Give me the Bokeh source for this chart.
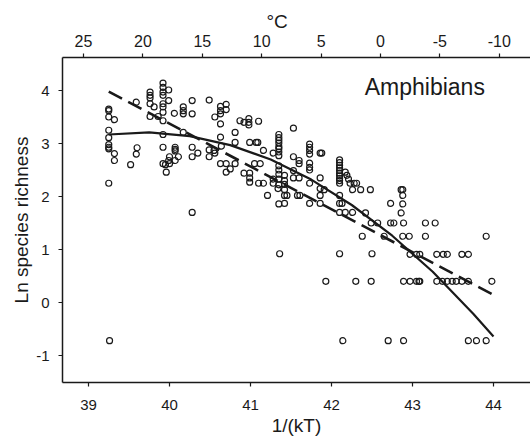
from bokeh.plotting import figure
from bokeh.models import Range1d, LinearAxis, FixedTicker, Label
from bokeh.embed import file_html
from bokeh.resources import INLINE

# ---- data ----
inv_kT = [
    39.25, 39.25, 39.25, 39.32, 39.25, 39.25, 39.25, 39.25, 39.25, 39.25, 39.32, 39.32, 39.26,
    39.52, 39.59, 39.60, 39.59,
    39.76, 39.76, 39.76, 39.76, 39.76, 39.81, 39.86,
    39.92, 39.92, 39.92, 39.92, 39.92, 39.92, 39.92, 39.92, 39.92, 39.92, 39.92, 39.95, 39.96, 39.99,
    39.99, 39.99, 40.00, 40.00,
    40.06, 40.07, 40.07, 40.07, 40.07, 40.11,
    40.17, 40.17, 40.17, 40.17,
    40.28, 40.28, 40.28, 40.28, 40.35, 40.28,
    40.49, 40.49, 40.49, 40.55, 40.56, 40.56,
    40.63, 40.63, 40.63, 40.63, 40.63, 40.64, 40.63,
    40.70, 40.70, 40.70, 40.70, 40.75, 40.81,
    40.81, 40.81,
    40.87, 40.92, 40.98, 40.98, 40.98, 41.10,
    40.99, 41.07, 41.09, 41.16, 41.28,
    40.92, 40.99, 40.99, 40.99, 41.05, 41.12, 41.10, 41.16, 41.21, 41.28, 41.28,
    41.35, 41.35, 41.35, 41.35, 41.35, 41.35, 41.35, 41.35, 41.35, 41.35, 41.35, 41.35, 41.35, 41.34, 41.35,
    41.42, 41.42, 41.42, 41.42, 41.42, 41.42, 41.45,
    41.53, 41.53, 41.60, 41.60, 41.53, 41.53, 41.60,
    41.73, 41.73, 41.73, 41.73, 41.73, 41.73, 41.73, 41.73, 41.73,
    41.86, 41.88, 41.86, 41.86, 41.91, 41.86, 41.86,
    41.58, 41.61,
    42.10, 42.10, 42.10, 42.10, 42.10, 42.10, 42.10, 42.10, 42.10, 42.10, 42.10, 42.10, 42.10, 42.10,
    42.13, 42.17, 42.19, 42.21, 42.23, 42.28, 42.31, 42.26, 42.36, 42.48, 42.17, 42.26, 42.42, 42.49, 42.57, 42.38, 42.65,
    42.14, 41.36, 42.50, 41.93, 42.30, 42.49,
    42.73, 42.86, 42.88, 42.88, 42.88, 42.86, 42.73, 42.77, 42.89, 42.88, 42.96, 43.16, 43.28, 43.16, 43.91,
    42.97, 43.05, 43.09, 43.30, 43.38, 43.43, 43.61, 43.69,
    42.89, 42.97, 43.05, 43.08, 43.09, 43.30, 43.37, 43.43, 43.49, 43.54, 43.61, 43.69, 43.98,
    42.70, 42.89, 43.69, 43.79, 43.91,
]
ln_richness = [
    3.65, 3.62, 3.50, 3.45, 3.25, 3.11, 2.98, 2.93, 2.90, 2.25, 2.81, 2.68, -0.72,
    2.60, 3.78, 2.92, 2.80,
    3.97, 3.91, 3.86, 3.75, 3.51, 3.69, 3.51,
    4.14, 4.06, 3.97, 3.91, 3.75, 3.69, 3.59, 3.43, 3.17, 2.93, 2.62, 2.60, 2.46, 2.68,
    4.01, 3.81, 2.75, 2.62,
    3.57, 2.93, 2.89, 2.86, 2.68, 2.75,
    3.69, 3.62, 3.56, 3.21,
    3.81, 3.56, 2.93, 2.75, 2.82, 1.70,
    3.82, 2.88, 2.75, 2.87, 2.82, 3.50,
    3.70, 3.62, 3.56, 3.37, 3.12, 2.95, 2.62,
    3.74, 3.64, 2.62, 2.46, 2.52, 2.62,
    3.21, 3.02,
    3.43, 3.40, 3.47, 3.40, 3.35, 3.42,
    3.02, 3.02, 3.02, 2.87, 2.82,
    2.44, 2.44, 2.35, 2.27, 2.62, 2.62, 2.25, 2.25, 2.02, 2.33, 2.25,
    3.17, 3.11, 3.06, 3.01, 2.94, 2.90, 2.84, 2.77, 2.58, 2.50, 2.42, 2.33, 2.22, 2.15, 1.86,
    2.40, 2.30, 2.23, 2.13, 2.02, 1.87, 2.02,
    3.29, 2.75, 2.68, 2.62, 2.49, 2.35, 2.35,
    2.99, 2.93, 2.87, 2.80, 2.63, 2.55, 2.50, 2.25, 1.87,
    2.82, 2.82, 2.35, 2.15, 2.13, 2.02, 1.87,
    2.02, 2.02,
    2.69, 2.64, 2.59, 2.54, 2.49, 2.44, 2.39, 2.34, 2.30, 2.25, 2.02, 1.87, 1.70, 0.92,
    1.87, 2.46, 2.40, 2.33, 2.25, 2.25, 2.25, 2.13, 2.13, 2.13, 1.70, 1.70, 1.69, 1.50, 1.50, 1.25, 1.25,
    -0.72, 0.92, 0.92, 0.40, 0.40, 0.40,
    1.87, 2.13, 2.13, 2.02, 1.86, 1.69, 1.50, 1.50, 1.50, 1.25, 1.25, 1.50, 1.50, 1.25, 1.25,
    0.91, 0.91, 0.91, 0.91, 0.91, 0.91, 0.91, 0.91,
    0.40, 0.40, 0.40, 0.40, 0.40, 0.40, 0.40, 0.40, 0.40, 0.40, 0.40, 0.40, 0.40,
    -0.72, -0.72, -0.72, -0.72, -0.72,
]

# linear fit (dashed), read endpoints
lin_x = [39.25, 43.98]
lin_y = [3.98, 0.16]

# quadratic fit (solid)
quad_x = [39.25, 39.75, 40.25, 40.75, 41.25, 41.75, 42.25, 42.75, 43.25, 43.75, 44.0]
quad_y = [3.17, 3.21, 3.14, 2.97, 2.70, 2.32, 1.84, 1.26, 0.58, -0.21, -0.64]

x_ticks = [39, 40, 41, 42, 43, 44]
y_ticks = [-1, 0, 1, 2, 3, 4]
celsius_ticks = [25, 20, 15, 10, 5, 0, -5, -10]

FONT = "Liberation Sans"
INK = "#1a1a1a"

p = figure(width=530, height=447,
           x_range=Range1d(38.679, 44.457), y_range=Range1d(-1.509, 4.623),
           output_backend="svg", toolbar_location=None,
           min_border_left=62, min_border_right=0, min_border_top=57, min_border_bottom=65,
           background_fill_color="white", border_fill_color="white")
p.outline_line_color = None
p.grid.visible = False

bottom = p.below[0]
left = p.left[0]

p.extra_x_ranges = {"C": Range1d(26.768, -12.63)}
top = LinearAxis(x_range_name="C", ticker=FixedTicker(ticks=celsius_ticks))
p.add_layout(top, "above")

bottom.ticker = FixedTicker(ticks=x_ticks)
left.ticker = FixedTicker(ticks=y_ticks)
bottom.axis_label = "1/(kT)"
left.axis_label = "Ln species richness"
left.major_label_overrides = {t: str(t) for t in y_ticks}
top.major_label_overrides = {t: str(t) for t in celsius_ticks}
bottom.major_label_overrides = {t: str(t) for t in x_ticks}

for ax in [bottom, left, top]:
    ax.axis_line_color = INK
    ax.axis_line_width = 1.5
    ax.major_tick_line_color = INK
    ax.major_tick_line_width = 1.2
    ax.major_tick_out = 4
    ax.major_tick_in = 0
    ax.minor_tick_line_color = None
    ax.major_label_text_font = FONT
    ax.major_label_text_font_size = "15px"
    ax.major_label_text_color = INK
    ax.axis_label_text_font = FONT
    ax.axis_label_text_font_size = "19px"
    ax.axis_label_text_font_style = "normal"
    ax.axis_label_text_color = INK

bottom.major_label_standoff = 13
bottom.axis_label_standoff = 2
left.major_label_standoff = 9
left.axis_label_standoff = 1
top.major_label_standoff = 7
top.major_label_text_font_size = "16px"

p.title.text = "\u00b0C"
p.title.align = "left"
p.title.offset = 204
p.title.text_font = FONT
p.title.text_font_size = "19px"
p.title.text_font_style = "normal"
p.title.text_color = INK
p.title.standoff = 0

p.line(lin_x, lin_y, line_color=INK, line_width=2.6, line_dash="15 7")
p.line(quad_x, quad_y, line_color=INK, line_width=2.2)

p.scatter(inv_kT, ln_richness, marker="circle", size=6, fill_color=None,
          line_color=INK, line_width=1.2)

p.add_layout(Label(x=42.41, y=4.07, text="Amphibians", text_font=FONT,
                   text_font_size="23px", text_color=INK, text_baseline="alphabetic"))

open("out.html", "w").write(file_html(p, INLINE))
